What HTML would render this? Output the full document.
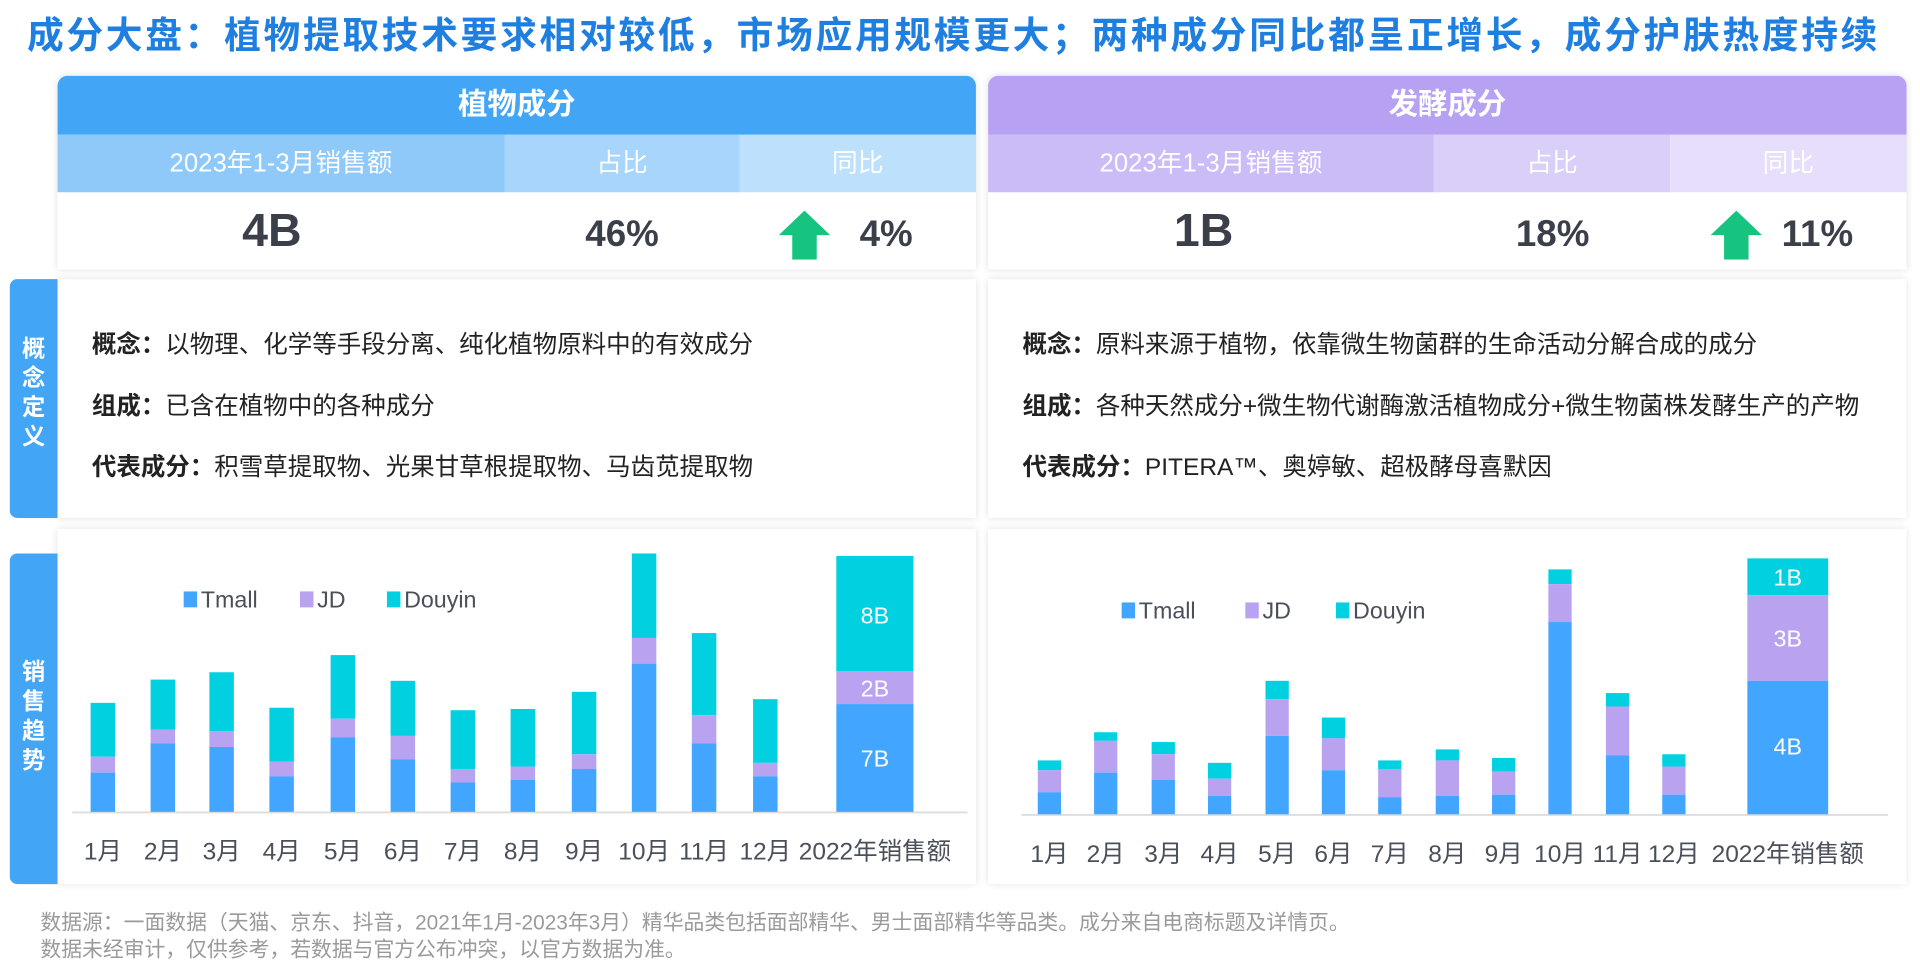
<!DOCTYPE html>
<html><head><meta charset="utf-8"><style>
html,body{margin:0;padding:0;width:1920px;height:965px;overflow:hidden;background:#fff}
#w{position:absolute;left:0;top:0;width:1568px;height:788px;transform:scale(1.22449);transform-origin:0 0;font-family:"Liberation Sans","Noto Sans CJK SC",sans-serif}
.a{position:absolute}
.t{position:absolute;white-space:nowrap}
.card{position:absolute;background:#fff;box-shadow:0 0 6px rgba(0,0,0,0.12)}
.c{text-align:center;color:#fff}
.tx{font-size:20px;color:#222;position:absolute;white-space:nowrap}
.tx b{font-weight:bold}
</style></head><body><div id="w">
<div class="t" style="left:22px;top:4px;font-size:30px;font-weight:bold;color:#1f7fe0;letter-spacing:2.2px">成分大盘：植物提取技术要求相对较低，市场应用规模更大；两种成分同比都呈正增长，成分护肤热度持续</div>

<!-- left panel -->
<div class="card" style="left:47px;top:62px;width:750px;height:158px;border-radius:8px 8px 0 0"></div>
<div class="a c" style="left:47px;top:62px;width:750px;height:48px;background:#42a5f6;border-radius:8px 8px 0 0;line-height:48px;font-size:24px;font-weight:bold">植物成分</div>
<div class="a c" style="left:47px;top:110px;width:365px;height:47px;background:#8fc9f9;line-height:47px;font-size:21px">2023年1-3月销售额</div>
<div class="a c" style="left:412px;top:110px;width:192px;height:47px;background:#a7d5fb;line-height:47px;font-size:21px">占比</div>
<div class="a c" style="left:604px;top:110px;width:193px;height:47px;background:#bde0fc;line-height:47px;font-size:21px">同比</div>
<div class="t" style="left:162px;top:168px;width:120px;text-align:center;font-size:38px;font-weight:bold;color:#3a3f4a">4B</div>
<div class="t" style="left:448px;top:175px;width:120px;text-align:center;font-size:30px;font-weight:bold;color:#3a3f4a">46%</div>
<svg class="a" style="left:636px;top:172px" width="42" height="40"><polygon points="21,0 42,20 31,20 31,40 11,40 11,20 0,20" fill="#16c47f"/></svg>
<div class="t" style="left:702px;top:175px;font-size:30px;font-weight:bold;color:#3a3f4a">4%</div>

<div class="card" style="left:47px;top:228px;width:750px;height:195px"></div>
<div class="a" style="left:8px;top:228px;width:39px;height:195px;background:#42a5f6;border-radius:6px 0 0 6px"></div>
<div class="a c" style="left:8px;top:274px;width:39px;font-size:19px;font-weight:bold;line-height:24px">概<br>念<br>定<br>义</div>
<div class="tx" style="left:75px;top:265px"><b>概念：</b>以物理、化学等手段分离、纯化植物原料中的有效成分</div>
<div class="tx" style="left:75px;top:315px"><b>组成：</b>已含在植物中的各种成分</div>
<div class="tx" style="left:75px;top:365px"><b>代表成分：</b>积雪草提取物、光果甘草根提取物、马齿苋提取物</div>

<div class="card" style="left:47px;top:432px;width:750px;height:290px"></div>
<div class="a" style="left:8px;top:452px;width:39px;height:270px;background:#42a5f6;border-radius:6px 0 0 6px"></div>
<div class="a c" style="left:8px;top:538px;width:39px;font-size:19px;font-weight:bold;line-height:24px">销<br>售<br>趋<br>势</div>

<!-- right panel -->
<div class="card" style="left:807px;top:62px;width:750px;height:158px;border-radius:8px 8px 0 0"></div>
<div class="a c" style="left:807px;top:62px;width:750px;height:48px;background:#b6a1f2;border-radius:8px 8px 0 0;line-height:48px;font-size:24px;font-weight:bold">发酵成分</div>
<div class="a c" style="left:807px;top:110px;width:364px;height:47px;background:#cbbbf6;line-height:47px;font-size:21px">2023年1-3月销售额</div>
<div class="a c" style="left:1171px;top:110px;width:193px;height:47px;background:#dacff9;line-height:47px;font-size:21px">占比</div>
<div class="a c" style="left:1364px;top:110px;width:193px;height:47px;background:#e6defb;line-height:47px;font-size:21px">同比</div>
<div class="t" style="left:923px;top:168px;width:120px;text-align:center;font-size:38px;font-weight:bold;color:#3a3f4a">1B</div>
<div class="t" style="left:1208px;top:175px;width:120px;text-align:center;font-size:30px;font-weight:bold;color:#3a3f4a">18%</div>
<svg class="a" style="left:1397px;top:172px" width="42" height="40"><polygon points="21,0 42,20 31,20 31,40 11,40 11,20 0,20" fill="#16c47f"/></svg>
<div class="t" style="left:1455px;top:175px;font-size:30px;font-weight:bold;color:#3a3f4a">11%</div>

<div class="card" style="left:807px;top:228px;width:750px;height:195px"></div>
<div class="tx" style="left:835px;top:265px"><b>概念：</b>原料来源于植物，依靠微生物菌群的生命活动分解合成的成分</div>
<div class="tx" style="left:835px;top:315px"><b>组成：</b>各种天然成分+微生物代谢酶激活植物成分+微生物菌株发酵生产的产物</div>
<div class="tx" style="left:835px;top:365px"><b>代表成分：</b>PITERA™、奥婷敏、超极酵母喜默因</div>
<div class="card" style="left:807px;top:432px;width:750px;height:290px"></div>

<svg class="a" style="left:0;top:0" width="1568" height="788" font-family="Liberation Sans, Noto Sans CJK SC, sans-serif">
<g id="L"></g><g id="R"></g>
</svg>

<div class="t" style="left:33px;top:739px;font-size:17px;color:#9a9a9a">数据源：一面数据（天猫、京东、抖音，2021年1月-2023年3月）精华品类包括面部精华、男士面部精华等品类。成分来自电商标题及详情页。</div>
<div class="t" style="left:33px;top:761px;font-size:17px;color:#9a9a9a">数据未经审计，仅供参考，若数据与官方公布冲突，以官方数据为准。</div>
</div>
<script>
var T='#42a5ff',J='#b9a3f0',D='#00d0e0';
function chart(id,base,x0,x1,cx,bw,bars,big,bigLab,leg,ly){
 var g=document.getElementById(id),s='';
 s+='<line x1="'+x0+'" y1="'+(base+0.5)+'" x2="'+x1+'" y2="'+(base+0.5)+'" stroke="#ddd" stroke-width="1.5"/>';
 bars.forEach(function(b,i){var x=cx[i]-bw/2;
  s+='<rect x="'+x+'" y="'+b[0]+'" width="'+bw+'" height="'+(b[1]-b[0])+'" fill="'+D+'"/>';
  s+='<rect x="'+x+'" y="'+b[1]+'" width="'+bw+'" height="'+(b[2]-b[1])+'" fill="'+J+'"/>';
  s+='<rect x="'+x+'" y="'+b[2]+'" width="'+bw+'" height="'+(base-b[2])+'" fill="'+T+'"/>';
  s+='<text x="'+cx[i]+'" y="'+(base+39)+'" font-size="20" fill="#4a4f5a" text-anchor="middle">'+(i+1)+'月</text>';});
 var bx=big[0],bw2=big[1]-big[0],bc=bx+bw2/2,b=big[2];
 s+='<rect x="'+bx+'" y="'+b[0]+'" width="'+bw2+'" height="'+(b[1]-b[0])+'" fill="'+D+'"/>';
 s+='<rect x="'+bx+'" y="'+b[1]+'" width="'+bw2+'" height="'+(b[2]-b[1])+'" fill="'+J+'"/>';
 s+='<rect x="'+bx+'" y="'+b[2]+'" width="'+bw2+'" height="'+(base-b[2])+'" fill="'+T+'"/>';
 bigLab.forEach(function(l){s+='<text x="'+bc+'" y="'+(l[1]+7)+'" font-size="19" fill="#fff" text-anchor="middle">'+l[0]+'</text>';});
 s+='<text x="'+bc+'" y="'+(base+39)+'" font-size="20" fill="#4a4f5a" text-anchor="middle">2022年销售额</text>';
 var n=['Tmall','JD','Douyin'],c=[T,J,D];
 leg.forEach(function(lx,i){s+='<rect x="'+lx+'" y="'+(ly-6)+'" width="11" height="13" fill="'+c[i]+'"/><text x="'+(lx+14)+'" y="'+(ly+7)+'" font-size="19" fill="#4a4f5a">'+n[i]+'</text>';});
 g.innerHTML=s;}
var cl=[84,133,181,230,280,329,378,427,477,526,575,625];
chart('L',663,59,790,cl,20,[[574,618,631],[555,596,607],[549,597,610],[578,622,634],[535,587,602],[556,601,620],[580,628,639],[579,626,637],[565,616,628],[452,521,542],[517,584,607],[571,623,634]],[683,746,[454,548,575]],[['8B',502],['2B',562],['7B',619]],[150,245,316],489);
var cr=[857,903,950,996,1043,1089,1135,1182,1228,1274,1321,1367];
chart('R',665,834,1542,cr,19,[[621,629,647],[598,605,631],[606,616,637],[623,636,650],[556,571,601],[586,603,629],[621,628,651],[612,621,650],[619,630,649],[465,477,508],[566,577,617],[616,626,649]],[1427,1493,[456,486,556]],[['1B',471],['3B',521],['4B',609]],[916,1017,1091],498);
</script>
</body></html>
